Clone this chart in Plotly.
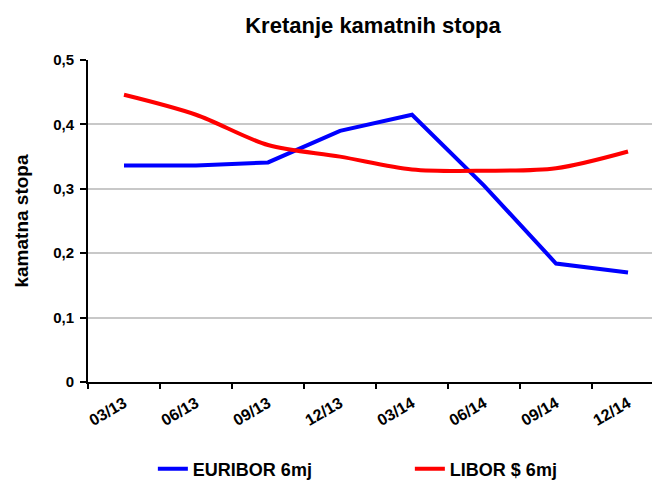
import plotly.graph_objects as go

categories = ["03/13", "06/13", "09/13", "12/13", "03/14", "06/14", "09/14", "12/14"]
euribor = [0.336, 0.336, 0.341, 0.390, 0.415, 0.305, 0.184, 0.170]
libor = [0.446, 0.415, 0.368, 0.350, 0.330, 0.328, 0.332, 0.358]
y_tickvals = [0, 0.1, 0.2, 0.3, 0.4, 0.5]
y_ticktext = ["0", "0,1", "0,2", "0,3", "0,4", "0,5"]

FONT = "Liberation Sans, Arial, sans-serif"

fig = go.Figure()
fig.add_trace(go.Scatter(
    x=categories, y=euribor, mode="lines", name="EURIBOR 6mj",
    line=dict(color="#0000FF", width=4),
))
fig.add_trace(go.Scatter(
    x=categories, y=libor, mode="lines", name="LIBOR $ 6mj",
    line=dict(color="#FF0000", width=4, shape="spline", smoothing=0.9),
))

fig.update_layout(
    width=652, height=482,
    margin=dict(l=88, r=0, t=60, b=100, autoexpand=False),
    paper_bgcolor="white", plot_bgcolor="white",
    font=dict(family=FONT, color="black", weight="bold"),
    title=dict(text="Kretanje kamatnih stopa", x=373/652, xanchor="center",
               y=1 - 25/482, yanchor="middle", xref="container", yref="container",
               font=dict(family=FONT, size=22, color="black", weight="bold")),
    showlegend=True,
    legend=dict(orientation="h", x=0.115, xanchor="left", y=-0.27, yanchor="middle",
                font=dict(family=FONT, size=18, color="black", weight="bold"),
                entrywidth=212, entrywidthmode="pixels",
                bgcolor="rgba(0,0,0,0)"),
)

fig.update_xaxes(
    type="category", range=[-0.5, 7.333],
    showgrid=False, showline=True, linecolor="black", linewidth=2,
    ticks="outside", ticklen=5, tickwidth=1.5, tickcolor="black", tickson="boundaries",
    tickangle=-30, ticklabelstandoff=4,
    tickfont=dict(family=FONT, size=16, color="black", weight="bold"),
    zeroline=False, automargin=False,
)
fig.update_yaxes(
    range=[0, 0.5], tickvals=y_tickvals, ticktext=y_ticktext,
    showgrid=True, gridcolor="#c8c8c8", gridwidth=1.5,
    showline=True, linecolor="black", linewidth=2,
    ticks="outside", ticklen=6, tickwidth=1.5, tickcolor="black",
    ticklabelstandoff=3,
    tickfont=dict(family=FONT, size=15, color="black", weight="bold"),
    zeroline=False, automargin=False,
    title=dict(text="kamatna stopa", standoff=19,
               font=dict(family=FONT, size=19, color="black", weight="bold")),
)

fig.write_html("out.html", config={"displayModeBar": False},
               post_script="document.body.style.margin='0';")
